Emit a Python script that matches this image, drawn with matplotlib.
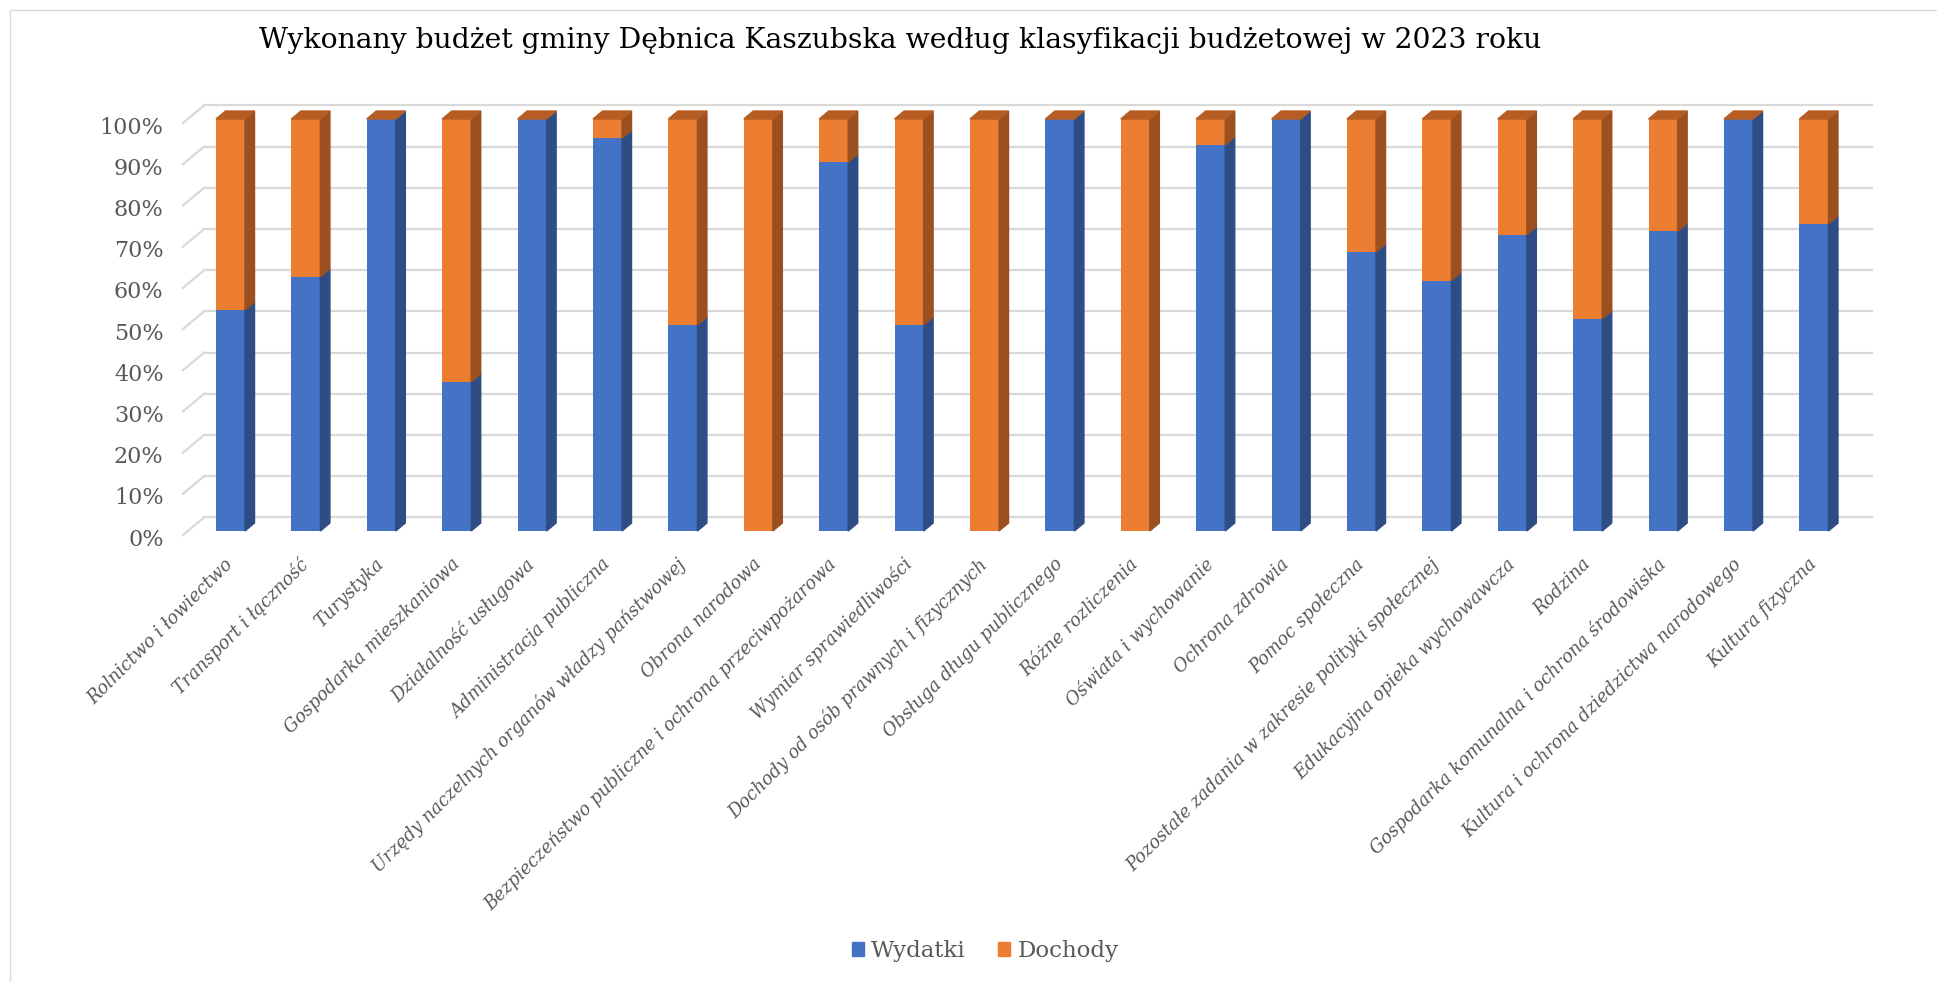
import matplotlib.pyplot as plt
from matplotlib.patches import Polygon, Patch, Rectangle
from matplotlib.transforms import ScaledTranslation

plt.rcParams['font.family'] = ['DejaVu Serif']

tytul = "Wykonany budżet gminy Dębnica Kaszubska według klasyfikacji budżetowej w 2023 roku"
kategorie = [
    "Rolnictwo i łowiectwo",
    "Transport i łączność",
    "Turystyka",
    "Gospodarka mieszkaniowa",
    "Działalność usługowa",
    "Administracja publiczna",
    "Urzędy naczelnych organów władzy państwowej",
    "Obrona narodowa",
    "Bezpieczeństwo publiczne i ochrona przeciwpożarowa",
    "Wymiar sprawiedliwości",
    "Dochody od osób prawnych i fizycznych",
    "Obsługa długu publicznego",
    "Różne rozliczenia",
    "Oświata i wychowanie",
    "Ochrona zdrowia",
    "Pomoc społeczna",
    "Pozostałe zadania w zakresie polityki społecznej",
    "Edukacyjna opieka wychowawcza",
    "Rodzina",
    "Gospodarka komunalna i ochrona środowiska",
    "Kultura i ochrona dziedzictwa narodowego",
    "Kultura fizyczna",
]
# udział wydatków w % (reszta do 100% to dochody)
wydatki = [53.6, 61.7, 100, 36.2, 100, 95.3, 50.0, 0, 89.5, 50.0, 0,
           100, 0, 93.7, 100, 67.7, 60.8, 71.9, 51.5, 72.7, 100, 74.5]
dochody = [100 - w for w in wydatki]

W, H = 1937, 982
fig = plt.figure(figsize=(W / 100, H / 100), dpi=100)
ax = fig.add_axes([183 / W, (H - 531) / H, (1872 - 183) / W, 412 / H])
x0, x1 = -0.63, 21.77
ax.set_xlim(x0, x1)
ax.set_ylim(0, 100)
for s in ax.spines.values():
    s.set_visible(False)

# siatka na tylnej scianie (pseudo 3D)
dxw, dyf, dyw = 0.28, -0.97, 3.3
for t in range(0, 101, 10):
    ax.plot([x0, x0 + dxw], [t + dyf, t + dyw], color='#D9D9D9', lw=1.6, clip_on=False, zorder=1)
    ax.plot([x0 + dxw, x1], [t + dyw, t + dyw], color='#D9D9D9', lw=1.6, clip_on=False, zorder=1)

xs = list(range(len(kategorie)))
szer = 0.385
ax.bar(xs, wydatki, szer, color='#4472C4', zorder=3, label='Wydatki')
ax.bar(xs, dochody, szer, bottom=wydatki, color='#ED7D31', zorder=3, label='Dochody')

# boki i wierzch slupkow
gx, gy = 0.126, 1.94
for i, w in enumerate(wydatki):
    l = i - szer / 2
    r = i + szer / 2
    for lo, hi, kol in [(0, w, '#2E4D85'), (w, 100, '#9C501F')]:
        if hi > lo:
            ax.add_patch(Polygon([(r, lo), (r + gx, lo + gy), (r + gx, hi + gy), (r, hi)],
                                 closed=True, color=kol, zorder=3, clip_on=False))
    ax.add_patch(Polygon([(l, 100), (l + gx, 100 + gy), (r + gx, 100 + gy), (r, 100)],
                         closed=True, color='#B55D22', zorder=3, clip_on=False))

ax.set_yticks(range(0, 101, 10))
ax.set_yticklabels([str(t) + '%' for t in range(0, 101, 10)])
ax.tick_params(axis='y', length=0, pad=14, labelsize=16, labelcolor='#595959')
for lab in ax.get_yticklabels():
    lab.set_transform(lab.get_transform() + ScaledTranslation(0, -6 / 100, fig.dpi_scale_trans))

ax.set_xticks(xs)
ax.set_xticklabels(kategorie, rotation=45, ha='right', va='center', rotation_mode='anchor',
                   fontsize=12.8, color='#595959', style='italic')
ax.tick_params(axis='x', length=0, pad=22)

fig.legend(handles=[Patch(color='#4472C4', label='Wydatki'), Patch(color='#ED7D31', label='Dochody')],
           loc='center', bbox_to_anchor=(985 / W, 1 - 951 / H), ncol=2, frameon=False,
           fontsize=16.5, handlelength=0.55, handleheight=0.55, handletextpad=0.3,
           columnspacing=1.4, labelcolor='#595959')

fig.text(900 / W, 1 - 40 / H, tytul, ha='center', va='center', fontsize=20.3, color='black')

fig.add_artist(Rectangle((10 / W, -0.1), 1.2, (H - 10) / H + 0.1, transform=fig.transFigure,
                         fill=False, edgecolor='#D9D9D9', lw=1))

fig.savefig('out.png', dpi=100)
